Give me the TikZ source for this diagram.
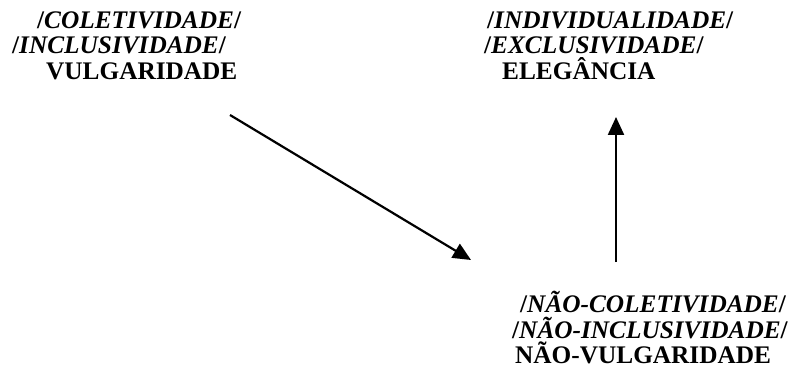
\documentclass[tikz,border=0pt]{standalone}
\usepackage{fontspec}
\setmainfont{Liberation Serif}
\usetikzlibrary{arrows.meta}
\begin{document}
\begin{tikzpicture}[x=1pt,y=-1pt,
  lbl/.style={anchor=base west,inner sep=0pt,font=\fontsize{25.3}{26}\selectfont\bfseries},
  arr/.style={line width=2.2pt,-{Triangle[length=18pt,width=16pt]}}]
\useasboundingbox (0,0) rectangle (789,371);
% left block
\node[lbl] (l1) at (37,29) {/\textit{COLETIVIDADE}/};
\node[lbl] (l2) at (12,54) {/\textit{INCLUSIVIDADE}/};
\node[lbl] (l3) at (46,80) {VULGARIDADE};
% right top block
\node[lbl] (r1) at (487,29) {/\textit{INDIVIDUALIDADE}/};
\node[lbl] (r2) at (484,54) {/\textit{EXCLUSIVIDADE}/};
\node[lbl] (r3) at (502,80) {ELEGÂNCIA};
% bottom block
\node[lbl] (b1) at (520,312) {/\textit{NÃO-COLETIVIDADE}/};
\node[lbl] (b2) at (512,338) {/\textit{NÃO-INCLUSIVIDADE}/};
\node[lbl] (b3) at (515,363) {NÃO-VULGARIDADE};
% arrows
\coordinate (a1s) at (230,115);
\coordinate (a1e) at (471,260);
\coordinate (a2s) at (616,262);
\coordinate (a2e) at (616,117);
\draw[arr] (a1s) -- (a1e);
\draw[arr] (a2s) -- (a2e);
\end{tikzpicture}
\end{document}
